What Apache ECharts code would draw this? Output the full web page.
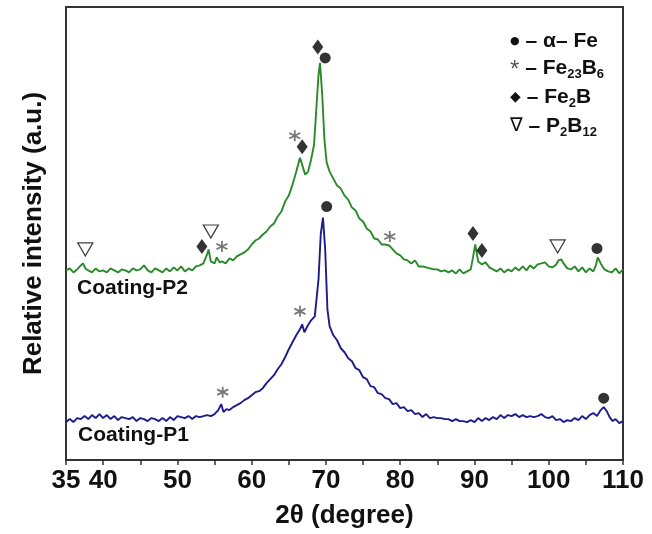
<!DOCTYPE html>
<html>
<head>
<meta charset="utf-8">
<script src="https://cdn.jsdelivr.net/npm/echarts@6/dist/echarts.min.js"></script>
<style>
html,body{margin:0;padding:0;background:#fff;}
#chart{width:652px;height:534px;}
</style>
</head>
<body>
<div id="chart"></div>
<script>
// 2θ tick labels
const xTicks = [35, 40, 50, 60, 70, 80, 90, 100, 110];

// Coating-P2 (green)
const p2Theta = [35.0,35.5,36.0,36.5,37.0,37.3,37.6,38.0,38.5,39.0,39.5,40.0,40.5,41.0,41.5,42.0,42.5,43.0,43.5,44.0,44.5,45.0,45.5,46.0,46.5,47.0,47.5,48.0,48.5,49.0,49.5,50.0,50.5,51.0,51.5,52.0,52.5,53.0,53.5,54.0,54.2,54.5,55.0,55.3,55.7,56.0,56.5,57.0,57.5,58.0,58.5,59.0,59.5,60.0,60.5,61.0,61.5,62.0,62.5,63.0,63.5,64.0,64.5,65.0,65.5,66.0,66.5,66.8,67.2,67.6,68.0,68.4,68.7,69.0,69.2,69.5,69.8,70.1,70.5,71.0,71.5,72.0,72.5,73.0,73.5,74.0,74.5,75.0,75.5,76.0,76.5,77.0,77.5,78.0,78.5,79.0,79.5,80.0,80.5,81.0,81.5,82.0,82.5,83.0,83.5,84.0,84.5,85.0,85.5,86.0,86.5,87.0,87.5,88.0,88.5,89.0,89.5,89.8,90.1,90.5,91.0,91.5,92.0,92.5,93.0,93.5,94.0,94.5,95.0,95.5,96.0,96.5,97.0,97.5,98.0,98.5,99.0,99.5,100.0,100.5,101.0,101.3,101.7,102.0,102.5,103.0,103.5,104.0,104.5,105.0,105.5,106.0,106.3,106.6,107.0,107.5,108.0,108.5,109.0,109.5,110.0];
const p2Int = [190,192,188,191,195,197,192,190,188,192,189,190,188,192,190,188,191,190,188,192,190,191,195,190,188,192,190,188,192,189,193,190,194,189,192,190,194,195,197,206,211,199,197,203,198,199,197,202,200,204,206,208,211,216,220,222,226,229,234,237,244,249,259,265,276,289,303,296,286,289,301,316,351,386,398,366,321,298,289,282,275,272,265,261,253,250,242,239,232,229,222,221,216,216,215,211,207,205,201,200,197,200,194,194,193,192,191,191,189,190,188,190,187,191,187,189,191,203,216,199,196,198,193,191,189,192,188,191,189,193,190,194,190,195,192,196,197,198,194,193,196,200,201,197,192,191,194,189,193,188,192,189,194,203,197,191,189,188,192,187,191,189];

// Coating-P1 (blue)
const p1Theta = [35.0,35.5,36.0,36.5,37.0,37.5,38.0,38.5,39.0,39.5,40.0,40.5,41.0,41.5,42.0,42.5,43.0,43.5,44.0,44.5,45.0,45.5,46.0,46.5,47.0,47.5,48.0,48.5,49.0,49.5,50.0,50.5,51.0,51.5,52.0,52.5,53.0,53.5,54.0,54.5,55.0,55.5,55.9,56.2,56.6,57.0,57.5,58.0,58.5,59.0,59.5,60.0,60.5,61.0,61.5,62.0,62.5,63.0,63.5,64.0,64.5,65.0,65.5,66.0,66.5,66.8,67.1,67.5,68.0,68.5,69.0,69.3,69.6,69.9,70.2,70.5,71.0,71.5,72.0,72.5,73.0,73.5,74.0,74.5,75.0,75.5,76.0,76.5,77.0,77.5,78.0,78.5,79.0,79.5,80.0,80.5,81.0,81.5,82.0,82.5,83.0,83.5,84.0,84.5,85.0,85.5,86.0,86.5,87.0,87.5,88.0,88.5,89.0,89.5,90.0,90.5,91.0,91.5,92.0,92.5,93.0,93.5,94.0,94.5,95.0,95.5,96.0,96.5,97.0,97.5,98.0,98.5,99.0,99.5,100.0,100.5,101.0,101.5,102.0,102.5,103.0,103.5,104.0,104.5,105.0,105.5,106.0,106.5,107.0,107.4,107.8,108.2,108.6,109.0,109.5,110.0];
const p1Int = [38,41,38,42,41,44,41,45,42,46,42,45,41,44,40,43,42,41,43,39,42,41,39,42,41,39,42,39,43,40,44,43,42,44,41,44,43,44,45,44,46,50,56,48,51,50,53,55,57,60,62,65,68,69,72,77,81,85,91,96,103,111,118,125,131,136,128,134,140,144,181,226,243,211,151,134,125,120,112,108,102,99,92,90,83,81,74,73,67,66,62,61,56,57,52,53,49,50,46,47,43,46,42,43,42,42,41,41,39,41,39,39,38,40,38,42,39,42,40,43,41,45,42,45,44,46,43,45,43,44,43,44,46,43,42,44,40,41,38,40,39,42,40,44,41,45,47,44,50,53,49,43,39,41,37,39];

// Peak annotations [2θ, height]
const alphaFeMarks = [[69.9, 403], [106.5, 212], [70.1, 254], [107.4, 62]];
const fe23b6Marks = [[56.0, 214], [65.8, 325], [78.6, 224], [56.1, 68], [66.5, 149]];
const fe2bMarks = [[53.3, 214], [66.8, 314], [68.9, 414], [89.8, 227], [91.0, 210]];
const p2b12Marks = [[37.6, 211], [54.5, 229], [101.2, 214]];

const seriesNames = ['Coating-P2', 'Coating-P1'];

const FONT = '"Liberation Sans", Arial, sans-serif';
const chart = echarts.init(document.getElementById('chart'), null, {renderer: 'canvas'});

const zip = (a, b) => a.map((v, i) => [v, b[i]]);
const axisCol = '#333';

const markSeries = (data, symbol, size, itemStyle) => ({
  type: 'scatter', data, symbol, symbolSize: size, itemStyle, z: 5, silent: true
});

const sub = {fontSize: 13, fontWeight: 'bold', fontFamily: FONT, fill: '#111', padding: [11, 0, 0, 0]};
const legendLine = (txt, y) => ({
  type: 'text', left: 510, top: y,
  style: {text: txt, font: 'bold 21px ' + FONT, fill: '#111',
    rich: {
      s: sub,
      dot: {fontSize: 11, fontFamily: '"DejaVu Sans"', fill: '#111', padding: [0, 6, 0, 3]},
      dia: {fontSize: 14, fontFamily: '"DejaVu Sans"', fill: '#111', padding: [0, 6, 0, 1]},
      tri: {fontSize: 19, fontFamily: '"DejaVu Sans"', fill: '#111'},
      st: {fontSize: 24, fontFamily: FONT, fill: '#555', padding: [4, 0, 0, 0]}
    }}
});

chart.setOption({
  animation: false,
  grid: {left: 66, right: 29, top: 7, bottom: 73, containLabel: false},
  xAxis: [{
    type: 'value', min: 35, max: 110, interval: 5,
    name: '2θ (degree)', nameLocation: 'middle', nameGap: 43,
    nameTextStyle: {fontSize: 26, fontWeight: 'bold', fontFamily: FONT, color: '#111'},
    axisLine: {lineStyle: {color: axisCol, width: 2}},
    axisTick: {show: true, inside: false, length: 5, lineStyle: {color: axisCol, width: 1.5}},
    axisLabel: {fontSize: 26, fontWeight: 'bold', fontFamily: FONT, color: '#111', margin: 8,
      formatter: v => xTicks.includes(v) ? String(v) : ''},
    splitLine: {show: false}
  }, {
    type: 'value', min: 35, max: 110, position: 'top',
    axisLine: {show: true, onZero: false, lineStyle: {color: axisCol, width: 2}},
    axisTick: {show: false}, axisLabel: {show: false}, splitLine: {show: false}
  }],
  yAxis: [{
    type: 'value', min: 0, max: 454,
    name: 'Relative intensity (a.u.)', nameLocation: 'middle', nameGap: 19,
    nameTextStyle: {fontSize: 26, fontWeight: 'bold', fontFamily: FONT, color: '#111'},
    axisLine: {show: true, lineStyle: {color: axisCol, width: 2}},
    axisTick: {show: false}, axisLabel: {show: false}, splitLine: {show: false}
  }, {
    type: 'value', min: 0, max: 454, position: 'right',
    axisLine: {show: true, onZero: false, lineStyle: {color: axisCol, width: 2}},
    axisTick: {show: false}, axisLabel: {show: false}, splitLine: {show: false}
  }],
  series: [
    {name: seriesNames[0], type: 'line', data: zip(p2Theta, p2Int), showSymbol: false,
      lineStyle: {color: '#2a8a2a', width: 1.9}, itemStyle: {color: '#2a8a2a'}, z: 3},
    {name: seriesNames[1], type: 'line', data: zip(p1Theta, p1Int), showSymbol: false,
      lineStyle: {color: '#1c1c8c', width: 1.9}, itemStyle: {color: '#1c1c8c'}, z: 3},
    markSeries(alphaFeMarks, 'circle', 11, {color: '#000'}),
    markSeries(fe2bMarks, 'diamond', [11, 15], {color: '#000'}),
    markSeries(p2b12Marks, 'path://M0,0L20,0L10,18Z', [15, 13], {color: '#fff', borderColor: '#111', borderWidth: 1.3}),
    markSeries(fe23b6Marks, 'path://M5,0L5,10M0.67,2.5L9.33,7.5M0.67,7.5L9.33,2.5', 11, {color: 'rgba(0,0,0,0)', borderColor: '#555', borderWidth: 1.8})
  ],
  graphic: [
    {type: 'text', left: 77, top: 278, style: {text: seriesNames[0], font: 'bold 21px ' + FONT, fill: '#111'}},
    {type: 'text', left: 78, top: 425, style: {text: seriesNames[1], font: 'bold 21px ' + FONT, fill: '#111'}},
    legendLine('{dot|●}– α– Fe', 31),
    legendLine('{st|*} – Fe{s|23}B{s|6}', 58),
    legendLine('{dia|◆}– Fe{s|2}B', 87),
    legendLine('{tri|∇} – P{s|2}B{s|12}', 116)
  ]
});
</script>
</body>
</html>
